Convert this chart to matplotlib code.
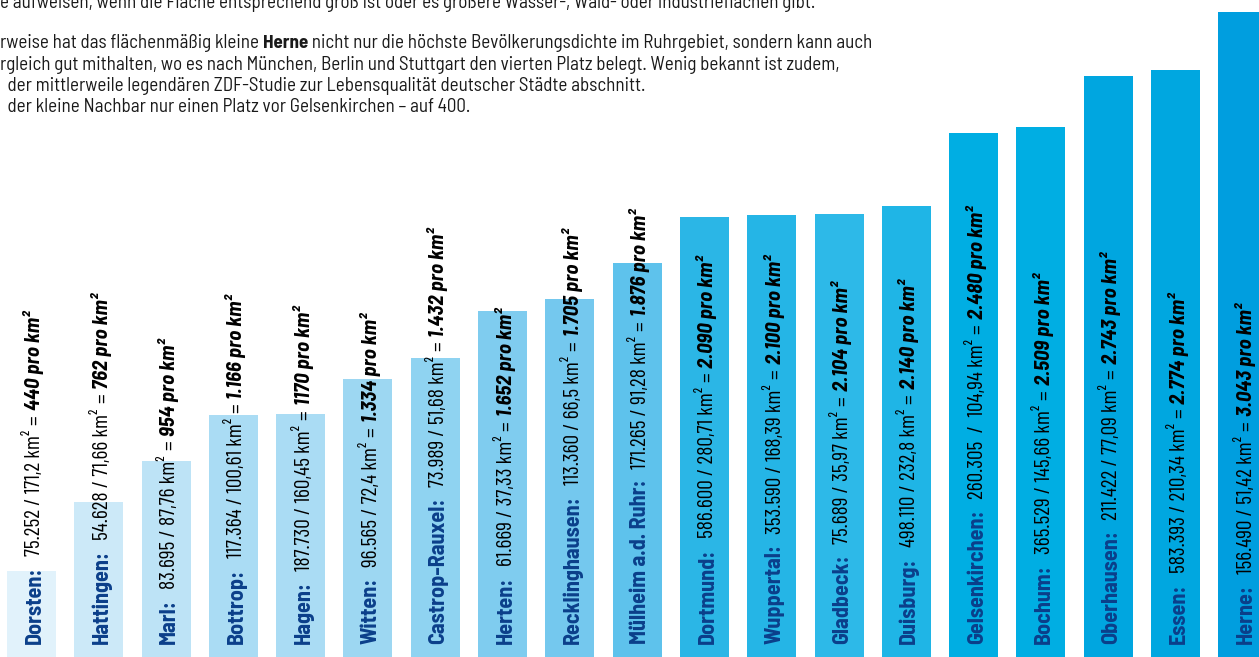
import matplotlib
matplotlib.use("Agg")
import matplotlib.pyplot as plt
from matplotlib import font_manager
from matplotlib.transforms import offset_copy

# the original uses a condensed face; take the first one that is installed
names = {f.name for f in font_manager.fontManager.ttflist}


def pick(*wanted):
    return next((n for n in wanted if n in names), "DejaVu Sans")


FONT = pick("Barlow Semi Condensed", "Barlow Condensed", "PT Sans Narrow",
            "Liberation Sans Narrow", "Roboto")
FONT_NUM = pick("Barlow Condensed", "Barlow Semi Condensed", "PT Sans Narrow",
                "Liberation Sans Narrow", "Roboto")
plt.rcParams["font.family"] = [FONT, "DejaVu Sans"]

# data
cities = ["Dorsten", "Hattingen", "Marl", "Bottrop", "Hagen", "Witten",
          "Castrop-Rauxel", "Herten", "Recklinghausen", "Mülheim a.d. Ruhr",
          "Dortmund", "Wuppertal", "Gladbeck", "Duisburg", "Gelsenkirchen",
          "Bochum", "Oberhausen", "Essen", "Herne"]
population = ["75.252", "54.628", "83.695", "117.364", "187.730", "96.565",
              "73.989", "61.669", "113.360", "171.265", "586.600", "353.590",
              "75.689", "498.110", "260.305 ", "365.529", "211.422", "583.393",
              "156.490"]
area = ["171,2", "71,66", "87,76", "100,61", "160,45", "72,4", "51,68",
        "37,33", "66,5", "91,28", "280,71", "168,39", "35,97", "232,8",
        " 104,94", "145,66", "77,09", "210,34", "51,42"]
density = [440, 762, 954, 1166, 1170, 1334, 1432, 1652, 1705, 1876, 2090,
           2100, 2104, 2140, 2480, 2509, 2743, 2774, 3043]
density_text = ["440", "762", "954", "1.166", "1170", "1.334", "1.432",
                "1.652", "1.705", "1.876", "2.090", "2.100", "2.104", "2.140",
                "2.480", "2.509", "2.743", "2.774", "3.043"]
colors = ["#e1f2fb", "#cce9f8", "#bde3f6", "#aadcf4", "#aadcf4", "#9dd7f2",
          "#8fd3f1", "#7fccef", "#74c8ee", "#5ec2ec", "#2bb6e6", "#25b5e6",
          "#2db9e8", "#1fb5e6", "#00aee3", "#00aee3", "#00a6e0", "#00a7e0",
          "#009edf"]

para_lines = [
    [("e aufweisen, wenn die Fläche entsprechend groß ist oder es größere Wasser-, Wald- oder Industrieflächen gibt.", "normal")],
    [("rweise hat das flächenmäßig kleine ", "normal"), ("Herne", "bold"),
     (" nicht nur die höchste Bevölkerungsdichte im Ruhrgebiet, sondern kann auch", "normal")],
    [("rgleich gut mithalten, wo es nach München, Berlin und Stuttgart den vierten Platz belegt. Wenig bekannt ist zudem,", "normal")],
    [("  der mittlerweile legendären ZDF-Studie zur Lebensqualität deutscher Städte abschnitt.", "normal")],
    [("  der kleine Nachbar nur einen Platz vor Gelsenkirchen – auf 400.", "normal")],
]

NAVY = "#0b3f8a"

fig = plt.figure(figsize=(12.59, 6.57), dpi=100)
ax = fig.add_axes([0, 0, 1, 1])
ax.axis("off")

x = list(range(len(cities)))
ax.bar(x, density, width=0.728, color=colors, linewidth=0)
ax.set_xlim(-0.468, 18.24)
ax.set_ylim(40, 3099)   # the baseline sits a little below the picture

fig.canvas.draw()
renderer = fig.canvas.get_renderer()

# rotated labels, built part by part from the bottom up
for i in x:
    parts = [
        (cities[i] + ":", dict(fontsize=16, fontweight="bold", color=NAVY), 10),
        (f"{population[i]} / {area[i]} km²",
         dict(fontsize=15.5, color="black", family=[FONT_NUM, "DejaVu Sans"]), 5),
        ("=", dict(fontsize=15.5, color="black", family=[FONT_NUM, "DejaVu Sans"]), 5),
        (f"{density_text[i]} pro km²", dict(fontsize=15, fontweight="bold",
                                           fontstyle="italic", color="black"), 0),
    ]
    dy = 22
    for txt, kw, gap in parts:
        tr = offset_copy(ax.transData, fig=fig, x=9, y=dy, units="dots")
        t = ax.text(i, 0, txt, rotation=90, rotation_mode="anchor",
                    ha="left", va="baseline", transform=tr, **kw)
        ext = t.get_window_extent(renderer)
        dy += ext.height + gap

# paragraph text at the top, partly cut off like the source
baselines = [8, 48, 70, 91, 112]
for line, yb in zip(para_lines, baselines):
    dx = 0
    for txt, weight in line:
        tr = offset_copy(fig.transFigure, fig=fig, x=dx, y=-yb, units="dots")
        t = fig.text(0, 1, txt, fontsize=13.7, fontweight=weight, color="#1a1a1a",
                     ha="left", va="baseline", transform=tr)
        dx += t.get_window_extent(renderer).width

fig.savefig("out.png", dpi=100)
